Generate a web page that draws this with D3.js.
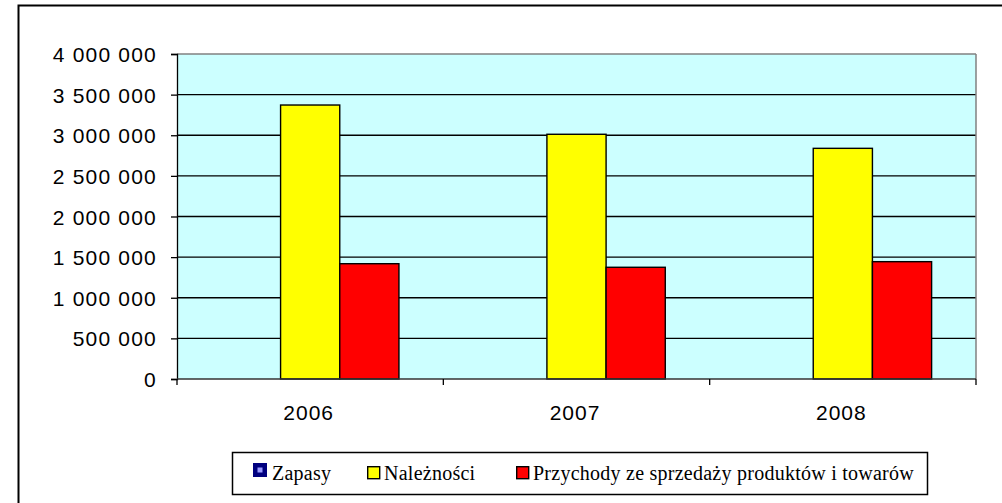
<!DOCTYPE html>
<html><head><meta charset="utf-8">
<script src="https://cdn.jsdelivr.net/npm/d3@7"></script>
<style>
html,body{margin:0;padding:0;background:#fff;}
svg{display:block;}
</style></head>
<body>
<svg id="chart" width="1002" height="503"></svg>
<script>
const categories = ["2006", "2007", "2008"];
const seriesNames = ["Zapasy", "Należności", "Przychody ze sprzedaży produktów i towarów"];
const zapasy = [0, 0, 0];
const naleznosci = [3372000, 3012000, 2839000];
const przychody = [1419000, 1375000, 1444000];
const yTickValues = [0, 500000, 1000000, 1500000, 2000000, 2500000, 3000000, 3500000, 4000000];
const seriesColors = ["#000080", "#FFFF00", "#FF0000"];

const seriesData = [zapasy, naleznosci, przychody];

const svg = d3.select("#chart");
const plot = {left: 177, right: 976, top: 54, bottom: 379};

// outer border
svg.append("rect").attr("x", 18.5).attr("y", 5.5).attr("width", 1100).attr("height", 600)
  .attr("fill", "none").attr("stroke", "#000").attr("stroke-width", 2);

const x0 = d3.scaleBand().domain(categories).range([plot.left, plot.right]).padding(0);
const x1 = d3.scaleBand().domain(seriesNames).range([0, x0.bandwidth()]).paddingInner(0).paddingOuter(0.75);
const y = d3.scaleLinear().domain([0, 4000000]).range([plot.bottom, plot.top]);

const fmt = d3.formatLocale({decimal: ",", thousands: "\u00a0", grouping: [3], currency: ["", ""]}).format(",d");

// plot background
svg.append("rect").attr("x", plot.left).attr("y", plot.top)
  .attr("width", plot.right - plot.left).attr("height", plot.bottom - plot.top)
  .attr("fill", "#CCFFFF");

// gridlines
svg.append("g").selectAll("line").data(yTickValues.filter(v => v > 0 && v < 4000000)).join("line")
  .attr("x1", plot.left).attr("x2", plot.right)
  .attr("y1", d => y(d)).attr("y2", d => y(d))
  .attr("stroke", "#000").attr("stroke-width", 1.3);

// plot border (grey top/right)
svg.append("line").attr("x1", plot.left).attr("x2", plot.right).attr("y1", plot.top).attr("y2", plot.top)
  .attr("stroke", "#808080").attr("stroke-width", 1.5);
svg.append("line").attr("x1", plot.right).attr("x2", plot.right).attr("y1", plot.top).attr("y2", plot.bottom)
  .attr("stroke", "#808080").attr("stroke-width", 1.5);

// bars
const g = svg.append("g");
categories.forEach((c, i) => {
  seriesNames.forEach((s, j) => {
    const v = seriesData[j][i];
    if (v <= 0) return;
    g.append("rect")
      .attr("x", x0(c) + x1(s))
      .attr("y", y(v))
      .attr("width", x1.bandwidth())
      .attr("height", y(0) - y(v))
      .attr("fill", seriesColors[j])
      .attr("stroke", "#000").attr("stroke-width", 1.4);
  });
});

// y axis
const yAxis = d3.axisLeft(y).tickValues(yTickValues).tickFormat(fmt).tickSize(6).tickPadding(14);
const ya = svg.append("g").attr("transform", `translate(${plot.left},0)`).call(yAxis);
ya.select(".domain").attr("stroke", "#000").attr("stroke-width", 1.3);
ya.selectAll(".tick line").attr("stroke", "#000").attr("stroke-width", 1.3);
ya.selectAll("text").attr("font-family", "Liberation Sans, Arial, sans-serif")
  .attr("font-size", 21).attr("fill", "#000").attr("letter-spacing", 1.2).attr("dy", "0.36em");

// x axis
const xBoundaries = categories.map(c => x0(c)).concat([plot.right]);
svg.append("line").attr("x1", plot.left).attr("x2", plot.right).attr("y1", plot.bottom).attr("y2", plot.bottom)
  .attr("stroke", "#333").attr("stroke-width", 1.4);
svg.append("g").selectAll("line").data(xBoundaries).join("line")
  .attr("x1", d => d).attr("x2", d => d).attr("y1", plot.bottom).attr("y2", plot.bottom + 6)
  .attr("stroke", "#000").attr("stroke-width", 1.3);
svg.append("g").selectAll("text").data(categories).join("text")
  .attr("x", d => x0(d) + x0.bandwidth() / 2 - 1.5)
  .attr("y", 419.5)
  .attr("text-anchor", "middle")
  .attr("font-family", "Liberation Sans, Arial, sans-serif")
  .attr("font-size", 21).attr("letter-spacing", 1).attr("fill", "#000")
  .text(d => d);

// legend
const lg = svg.append("g");
lg.append("rect").attr("x", 232.5).attr("y", 452.5).attr("width", 695).attr("height", 42)
  .attr("fill", "#fff").attr("stroke", "#000").attr("stroke-width", 1.5);
const legendX = [253, 367, 516];
const textX = [272, 384, 533];
const baseline = 480;
seriesNames.forEach((s, j) => {
  if (j === 0) {
    lg.append("rect").attr("x", legendX[j]).attr("y", 463).attr("width", 14).attr("height", 14)
      .attr("fill", "#000080");
    lg.append("rect").attr("x", legendX[j] + 4.5).attr("y", 467.5).attr("width", 5).attr("height", 5)
      .attr("fill", "#9999FF");
  } else {
    lg.append("rect").attr("x", legendX[j] + 0.7).attr("y", 466.7).attr("width", 12).attr("height", 12)
      .attr("fill", seriesColors[j]).attr("stroke", "#000").attr("stroke-width", 1.4);
  }
  lg.append("text").attr("x", textX[j]).attr("y", baseline)
    .attr("font-family", "Liberation Serif, Times New Roman, serif")
    .attr("font-size", 20).attr("letter-spacing", 0.25).attr("fill", "#000")
    .text(s);
});
</script>
</body></html>
